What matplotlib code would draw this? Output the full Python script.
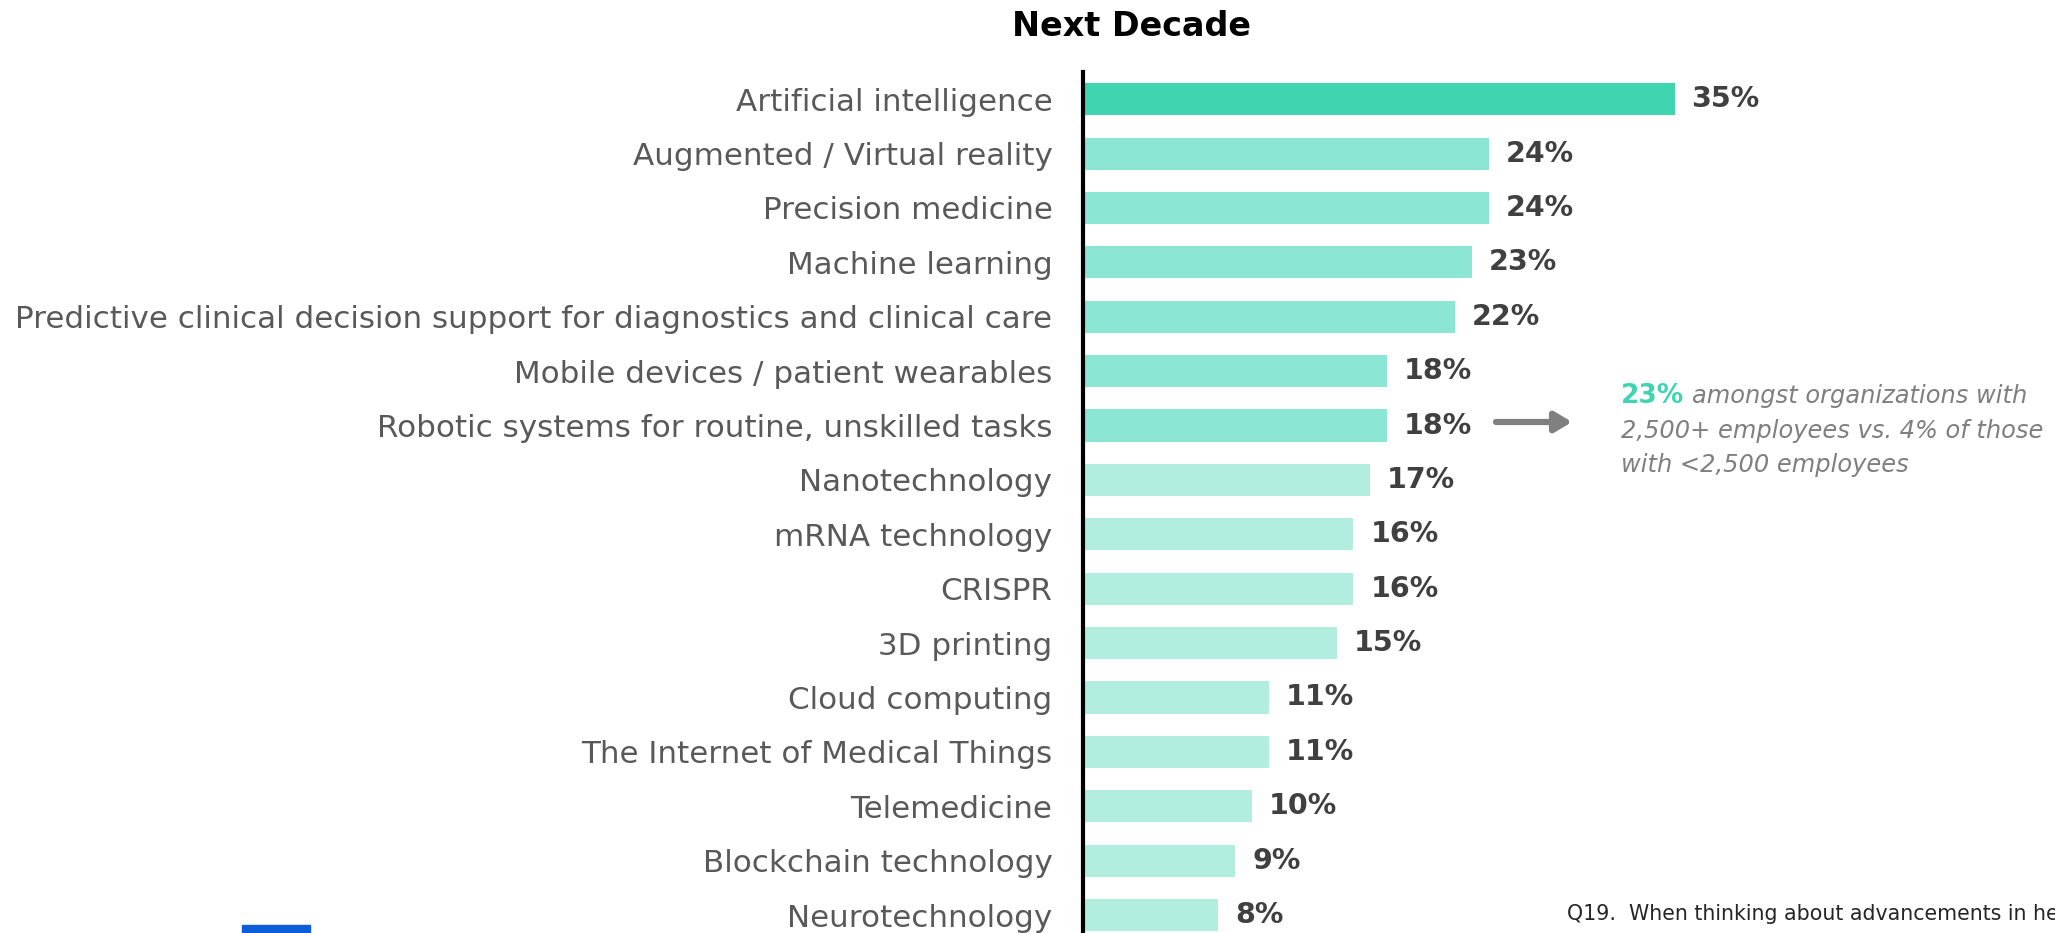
import matplotlib
matplotlib.use("Agg")
import matplotlib.pyplot as plt
from matplotlib.patches import Rectangle

# data, top to bottom
techs = ["Artificial intelligence", "Augmented / Virtual reality", "Precision medicine",
         "Machine learning",
         "Predictive clinical decision support for diagnostics and clinical care",
         "Mobile devices / patient wearables", "Robotic systems for routine, unskilled tasks",
         "Nanotechnology", "mRNA technology", "CRISPR", "3D printing", "Cloud computing",
         "The Internet of Medical Things", "Telemedicine", "Blockchain technology",
         "Neurotechnology"]
pct = [35, 24, 24, 23, 22, 18, 18, 17, 16, 16, 15, 11, 11, 10, 9, 8]
tiers = [0, 1, 1, 1, 1, 1, 1, 2, 2, 2, 2, 2, 2, 2, 2, 2]
tier_colors = ["#3ed5b0", "#8be6d3", "#b2eee0"]

W, H = 2055, 933
fig = plt.figure(figsize=(W / 100, H / 100), dpi=100)
ax = fig.add_axes([1083 / W, 0, 1 - 1083 / W, 1 - 72 / H])

y = list(range(len(techs)))
ax.barh(y, pct, height=0.59, color=[tier_colors[t] for t in tiers], zorder=2)
ax.set_ylim(15.33, -0.5)
ax.set_xlim(0, (W - 1083) / 16.9)

ax.set_yticks(y)
ax.set_yticklabels(techs, fontsize=22.3, color="#595959")
ax.tick_params(axis="y", length=0, pad=22)
ax.set_xticks([])
for s in ["top", "right", "bottom"]:
    ax.spines[s].set_visible(False)
ax.spines["left"].set_linewidth(3)
ax.spines["left"].set_color("black")

for i, v in enumerate(pct):
    ax.text(v + 1.0, i, f"{v}%", va="center", ha="left", fontsize=20.5,
            fontweight="bold", color="#404040")

fig.text(1132 / W, 1 - 27 / H, "Next Decade", ha="center", va="center",
         fontsize=24, fontweight="bold", color="black")

# arrow + callout
ax.annotate("", xy=(1572 / W, 1 - 422 / H), xytext=(1496 / W, 1 - 422 / H),
            xycoords="figure fraction", textcoords="figure fraction",
            arrowprops=dict(arrowstyle="-|>,head_length=1.0,head_width=0.6",
                            color="#808080", lw=4.5, shrinkA=0, shrinkB=0))

t1 = fig.text(1621 / W, 1 - 396 / H, "23%", ha="left", va="center", fontsize=19,
              fontweight="bold", color="#3ed5b0")
fig.canvas.draw()
bb = t1.get_window_extent()
fig.text((bb.x1 + 8) / W, 1 - 396 / H, "amongst organizations with", ha="left",
         va="center", fontsize=17.4, style="italic", color="#7f7f7f")
fig.text(1621 / W, 1 - 431 / H, "2,500+ employees vs. 4% of those", ha="left",
         va="center", fontsize=17.4, style="italic", color="#7f7f7f")
fig.text(1621 / W, 1 - 465 / H, "with <2,500 employees", ha="left",
         va="center", fontsize=17.4, style="italic", color="#7f7f7f")

# footnote, runs off the page like the original
fig.text(1567 / W, 1 - 914 / H,
         "Q19.  When thinking about advancements in healthcare technology",
         ha="left", va="center", fontsize=14.8, color="#262626")

# logo stub at bottom left
fig.patches.append(Rectangle((242 / W, 0), 68 / W, 8 / H, transform=fig.transFigure,
                             color="#0b5ed7", zorder=3))

fig.savefig("out.png", dpi=100)
